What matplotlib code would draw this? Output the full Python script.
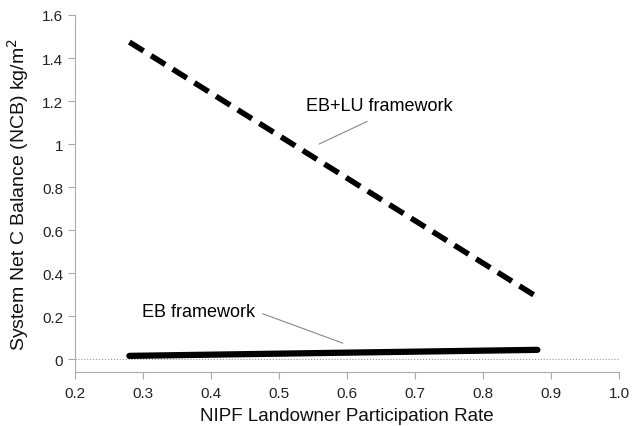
import matplotlib.pyplot as plt

plt.rcParams['font.family'] = ['Liberation Sans', 'DejaVu Sans']

# participation rate and net C balance for each framework
rate = [0.28, 0.88]
eb_lu = [1.474, 0.288]
eb = [0.015, 0.043]

xticks = [0.2, 0.3, 0.4, 0.5, 0.6, 0.7, 0.8, 0.9, 1.0]
xlabels = ['0.2', '0.3', '0.4', '0.5', '0.6', '0.7', '0.8', '0.9', '1.0']
yticks = [0, 0.2, 0.4, 0.6, 0.8, 1.0, 1.2, 1.4, 1.6]
ylabels = ['0', '0.2', '0.4', '0.6', '0.8', '1', '1.2', '1.4', '1.6']

fig = plt.figure(figsize=(6.33, 4.27), dpi=100)
ax = fig.add_axes([75 / 633, 1 - 373 / 427, (619 - 75) / 633, (373 - 16) / 427])

ax.axhline(0, color='#999999', lw=0.8, ls=':')
ax.plot(rate, eb_lu, color='black', lw=4, ls=(0, (3, 1.6)))
ax.plot(rate, eb, color='black', lw=4.5, solid_capstyle='round')

ax.annotate('EB+LU framework', xy=(0.559, 1.0), xytext=(0.647, 1.177),
            ha='center', va='center', fontsize=13,
            arrowprops=dict(arrowstyle='-', color='#888888', lw=0.8,
                            shrinkA=7, shrinkB=0, relpos=(0.52, 0.0)))
ax.annotate('EB framework', xy=(0.594, 0.074), xytext=(0.381, 0.219),
            ha='center', va='center', fontsize=13,
            arrowprops=dict(arrowstyle='-', color='#888888', lw=0.8,
                            shrinkA=0, shrinkB=0, relpos=(1.07, 0.4)))

ax.set_xlim(0.2, 1.0)
ax.set_ylim(-0.06, 1.6)
ax.set_xticks(xticks)
ax.set_xticklabels(xlabels)
ax.set_yticks(yticks)
ax.set_yticklabels(ylabels)

for s in ['top', 'right']:
    ax.spines[s].set_visible(False)
for s in ['left', 'bottom']:
    ax.spines[s].set_color('#aaaaaa')
ax.tick_params(colors='#aaaaaa', labelcolor='#222222', labelsize=11, length=5)
ax.tick_params(axis='x', pad=5)

ax.set_xlabel('NIPF Landowner Participation Rate', fontsize=13.5, labelpad=5, color='#111111')
ax.set_ylabel('System Net C Balance (NCB) kg/m$^2$', fontsize=14, labelpad=8, color='#111111')

plt.savefig('out.png')
